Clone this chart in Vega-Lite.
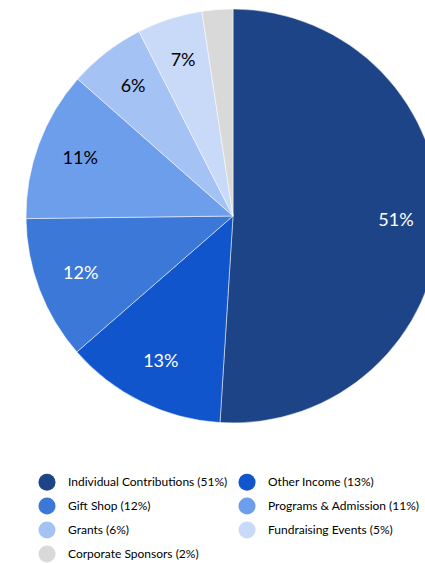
{
  "$schema": "https://vega.github.io/schema/vega-lite/v6.json",
  "width": 466,
  "height": 432,
  "padding": 0,
  "background": "white",
  "config": {"view": {"stroke": null}},
  "data": {
    "values": [
      {"category": "Individual Contributions (51%)", "value": 51.0, "label": "51%", "rank": 1},
      {"category": "Other Income (13%)", "value": 12.6, "label": "13%", "rank": 2},
      {"category": "Gift Shop (12%)", "value": 11.2, "label": "12%", "rank": 3},
      {"category": "Programs & Admission (11%)", "value": 11.7, "label": "11%", "rank": 4},
      {"category": "Grants (6%)", "value": 6.0, "label": "6%", "rank": 5},
      {"category": "Fundraising Events (5%)", "value": 5.1, "label": "7%", "rank": 6},
      {"category": "Corporate Sponsors (2%)", "value": 2.4, "label": "", "rank": 7}
    ]
  },
  "encoding": {
    "theta": {"field": "value", "type": "quantitative", "stack": true},
    "order": {"field": "rank", "type": "quantitative"}
  },
  "layer": [
    {
      "mark": {"type": "arc", "outerRadius": 207, "stroke": "white", "strokeWidth": 0.5},
      "encoding": {
        "color": {
          "field": "category",
          "type": "nominal",
          "sort": {"field": "rank"},
          "scale": {
            "domain": ["Individual Contributions (51%)", "Other Income (13%)", "Gift Shop (12%)", "Programs & Admission (11%)", "Grants (6%)", "Fundraising Events (5%)", "Corporate Sponsors (2%)"],
            "range": ["#1E4488", "#1155CC", "#3C78D8", "#6D9EEB", "#A4C2F4", "#C9DAF8", "#D9D9D9"]
          },
          "legend": {
            "title": null,
            "orient": "none",
            "direction": "horizontal",
            "legendX": 38,
            "legendY": 473,
            "columns": 2,
            "symbolType": "circle",
            "symbolSize": 290,
            "symbolStrokeWidth": 0,
            "labelFont": "Lato",
            "labelFontSize": 12,
            "labelColor": "#000000",
            "labelOffset": 12,
            "labelLimit": 300,
            "rowPadding": 6,
            "columnPadding": 10
          }
        }
      }
    },
    {
      "mark": {"type": "text", "radius": 163, "font": "Lato", "fontSize": 18},
      "encoding": {
        "text": {"field": "label", "type": "nominal"},
        "color": {"condition": {"test": "datum.rank <= 3", "value": "#FFFFFF"}, "value": "#000000"}
      }
    }
  ]
}
